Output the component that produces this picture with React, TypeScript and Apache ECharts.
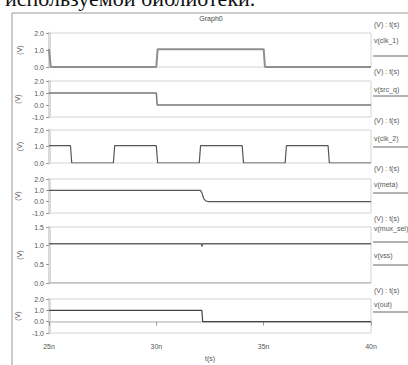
import React, { useEffect, useRef } from "react";
import * as echarts from "echarts";

// ---- Data (time in ns, value in V) ----
const clk1T = [25, 25.08, 30.0, 30.06, 35.0, 35.06, 40];
const clk1V = [1.05, 0, 0, 1.05, 1.05, 0, 0];

const srcQT = [25, 30.0, 30.04, 40];
const srcQV = [1.0, 1.0, 0, 0];

const clk2T = [25, 26.0, 26.06, 28.0, 28.06, 30.0, 30.06, 32.0, 32.06, 34.0, 34.06, 36.0, 36.06, 38.0, 38.06, 40];
const clk2V = [1.05, 1.05, 0, 0, 1.05, 1.05, 0, 0, 1.05, 1.05, 0, 0, 1.05, 1.05, 0, 0];

const metaT = [25, 32.05, 32.12, 32.2, 32.3, 32.45, 40];
const metaV = [1.0, 1.0, 0.8, 0.3, 0.06, 0, 0];

const muxSelT = [25, 32.1, 32.12, 32.16, 40];
const muxSelV = [1.05, 1.05, 0.98, 1.05, 1.05];

const vssT = [25, 40];
const vssV = [0, 0];

const outT = [25, 32.12, 32.16, 40];
const outV = [1.0, 1.0, 0, 0];

const xTicks = [25, 30, 35, 40];
const panelNames = ["v(clk_1)", "v(src_q)", "v(clk_2)", "v(meta)", "v(mux_sel)", "v(out)"];

const zip = (t: number[], v: number[]) => t.map((x, i) => [x, v[i]]);

// ---- Layout ----
const GRIDS = [
  { top: 33, height: 34, min: 0, max: 2, interval: 1 },
  { top: 81, height: 36, min: -1, max: 2, interval: 1 },
  { top: 130, height: 33, min: 0, max: 2, interval: 1 },
  { top: 179, height: 34, min: -1, max: 2, interval: 1 },
  { top: 227, height: 56, min: 0, max: 1.5, interval: 0.5 },
  { top: 299, height: 34, min: -1, max: 2, interval: 1 },
];
const LEFT = 49;
const WIDTH = 322;
const FONT = "Liberation Sans";

const LEGEND = [
  { header: 24, label: 40, line: 56, name: panelNames[0] },
  { header: 71, label: 89, line: 96, name: panelNames[1] },
  { header: 120, label: 138, line: 147, name: panelNames[2] },
  { header: 168, label: 184, line: 193, name: panelNames[3] },
  { header: 218, label: 228, line: 242, name: panelNames[4] },
  { header: null, label: 255, line: 265, name: "v(vss)" },
  { header: 290, label: 304, line: 312, name: panelNames[5] },
];

export default function App() {
  const ref = useRef<HTMLDivElement>(null);
  useEffect(() => {
    if (!ref.current) return;
    const chart = echarts.init(ref.current, undefined, { renderer: "svg" });

    const grid = GRIDS.map((g) => ({
      left: LEFT,
      width: WIDTH,
      top: g.top,
      height: g.height,
      show: true,
      borderColor: "#d4d4d4",
      borderWidth: 1,
      backgroundColor: "#fff",
    }));

    const xAxis = GRIDS.map((g, i) => ({
      type: "value",
      gridIndex: i,
      min: xTicks[0],
      max: xTicks[xTicks.length - 1],
      interval: 5,
      axisLine: { show: i === 5, lineStyle: { color: "#d4d4d4", width: 2 } },
      axisTick: { show: i === 5, length: 4, lineStyle: { color: "#999" } },
      axisLabel: {
        show: i === 5,
        formatter: (v: number) => `${v}n`,
        fontSize: 7,
        fontFamily: FONT,
        color: "#555",
        margin: 10,
      },
      splitLine: { show: false },
      name: i === 5 ? "t(s)" : "",
      nameLocation: "middle",
      nameGap: 22,
      nameTextStyle: { fontSize: 7, fontFamily: FONT, color: "#555" },
    }));

    const yAxis = GRIDS.map((g, i) => ({
      type: "value",
      gridIndex: i,
      min: g.min,
      max: g.max,
      interval: g.interval,
      axisLine: { show: true, lineStyle: { color: "#dadada", width: 3 } },
      axisTick: { show: true, length: 3, lineStyle: { color: "#999" } },
      axisLabel: {
        formatter: (v: number) => v.toFixed(1),
        fontSize: 7,
        fontFamily: FONT,
        color: "#555",
        margin: 5,
      },
      splitLine: { show: false },
      name: "(V)",
      nameLocation: "middle",
      nameGap: 26,
      nameRotate: 90,
      nameTextStyle: { fontSize: 7, fontFamily: FONT, color: "#555" },
    }));

    const mk = (data: number[][], idx: number, color: string, width: number) => ({
      type: "line",
      xAxisIndex: idx,
      yAxisIndex: idx,
      data,
      showSymbol: false,
      symbol: "none",
      lineStyle: { color, width },
      z: 3,
    });

    const series = [
      mk(zip(clk1T, clk1V), 0, "#8f8f8f", 2),
      mk(zip(srcQT, srcQV), 1, "#777", 1.5),
      mk(zip(clk2T, clk2V), 2, "#555", 1.2),
      mk(zip(metaT, metaV), 3, "#555", 1.2),
      mk(zip(muxSelT, muxSelV), 4, "#666", 1.5),
      mk(zip(vssT, vssV), 4, "#999", 1.2),
      mk(zip(outT, outV), 5, "#444", 1.2),
    ];

    const graphic: any[] = [
      {
        type: "text",
        left: 5,
        top: -13,
        style: {
          text: "используемой библиотеки.",
          fontSize: 22,
          fontFamily: "Liberation Serif",
          fill: "#111",
        },
      },
      { type: "line", shape: { x1: 12, y1: 13, x2: 408, y2: 13 }, style: { stroke: "#999", lineWidth: 1 } },
      { type: "line", shape: { x1: 12, y1: 13, x2: 12, y2: 365 }, style: { stroke: "#999", lineWidth: 1 } },
      {
        type: "text",
        x: 211,
        y: 18,
        style: { text: "Graph0", fontSize: 7, fontFamily: FONT, fill: "#444", align: "center", verticalAlign: "middle" },
      },
    ];
    LEGEND.forEach((l) => {
      if (l.header !== null) {
        graphic.push({
          type: "text",
          x: 374,
          y: l.header,
          style: { text: "(V) : t(s)", fontSize: 7, fontFamily: FONT, fill: "#555", verticalAlign: "middle" },
        });
      }
      graphic.push({
        type: "text",
        x: 374,
        y: l.label,
        style: { text: l.name, fontSize: 7, fontFamily: FONT, fill: "#555", verticalAlign: "middle" },
      });
      graphic.push({
        type: "line",
        shape: { x1: 373, y1: l.line, x2: 408, y2: l.line },
        style: { stroke: "#666", lineWidth: 1 },
      });
    });

    chart.setOption({
      animation: false,
      backgroundColor: "#fff",
      grid,
      xAxis,
      yAxis,
      series,
      graphic,
    });
    return () => chart.dispose();
  }, []);

  return (
    <div
      ref={ref}
      style={{ position: "fixed", left: 0, top: 0, width: 408, height: 365 }}
    />
  );
}
